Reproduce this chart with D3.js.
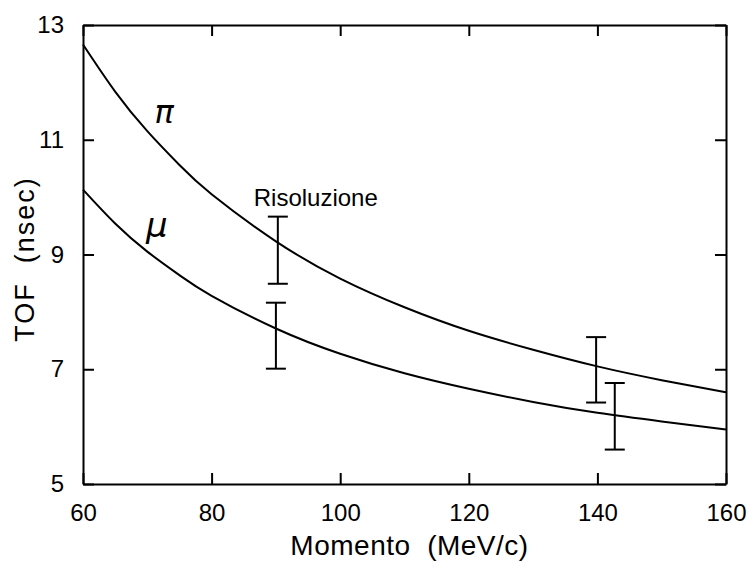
<!DOCTYPE html>
<html lang="it">
<head>
<meta charset="UTF-8">
<title>TOF vs Momento</title>
<script src="https://cdn.jsdelivr.net/npm/d3@7"></script>
<style>
  body { margin: 0; background: #fff; }
  svg { display: block; font-family: "Liberation Sans", Arial, sans-serif; }
  .axis path, .axis line { stroke: #000; stroke-width: 2; }
  .axis text { font-size: 24px; fill: #000; }
</style>
</head>
<body>
<div id="chart"></div>
<script>
// momentum (MeV/c) and time of flight (ns)
const momenta = [60, 65, 70, 75, 80, 90, 100, 110, 120, 130, 140, 150, 160];
const tofPion = [12.66, 11.84, 11.15, 10.56, 10.05, 9.23, 8.58, 8.08, 7.67, 7.34, 7.05, 6.81, 6.60];
const tofMuon = [10.13, 9.54, 9.05, 8.64, 8.28, 7.71, 7.27, 6.93, 6.66, 6.43, 6.24, 6.09, 5.95];

// resolution bars
const barMomenta = [90.3, 90.0, 139.8, 142.7];
const barLow = [8.49, 7.01, 6.42, 5.60];
const barHigh = [9.66, 8.16, 7.56, 6.76];

const xTicks = [60, 80, 100, 120, 140, 160];
const yTicks = [5, 7, 9, 11, 13];

const w = 748, h = 562;
const m = {top: 25, right: 22, bottom: 78, left: 83};

const svg = d3.select("#chart").append("svg")
    .attr("width", w)
    .attr("height", h);

const x = d3.scaleLinear().domain([60, 160]).range([m.left, w - m.right]);
const y = d3.scaleLinear().domain([5, 13]).range([h - m.bottom, m.top]);

const tick = 11;

svg.append("g").attr("class", "axis")
    .attr("transform", "translate(0," + (h - m.bottom) + ")")
    .call(d3.axisBottom(x).tickValues(xTicks).tickSizeInner(-tick).tickSizeOuter(0).tickPadding(20));
svg.append("g").attr("class", "axis")
    .attr("transform", "translate(0," + m.top + ")")
    .call(d3.axisTop(x).tickValues(xTicks).tickSizeInner(-tick).tickSizeOuter(0).tickFormat(""));
svg.append("g").attr("class", "axis")
    .attr("transform", "translate(" + m.left + ",0)")
    .call(d3.axisLeft(y).tickValues(yTicks).tickSizeInner(-tick).tickSizeOuter(0).tickPadding(19));
svg.append("g").attr("class", "axis")
    .attr("transform", "translate(" + (w - m.right) + ",0)")
    .call(d3.axisRight(y).tickValues(yTicks).tickSizeInner(-tick).tickSizeOuter(0).tickFormat(""));

// curves
const line = d3.line()
    .x((d, i) => x(momenta[i]))
    .y(d => y(d))
    .curve(d3.curveNatural);

[tofPion, tofMuon].forEach(s => {
    svg.append("path")
        .attr("d", line(s))
        .attr("fill", "none")
        .attr("stroke", "#000")
        .attr("stroke-width", 2);
});

// error bars
const bars = svg.append("g").attr("stroke", "#000").attr("stroke-width", 2);
barMomenta.forEach((p, i) => {
    bars.append("line")
        .attr("x1", x(p)).attr("x2", x(p))
        .attr("y1", y(barLow[i])).attr("y2", y(barHigh[i]));
    [barLow[i], barHigh[i]].forEach(v => {
        bars.append("line")
            .attr("x1", x(p) - 10).attr("x2", x(p) + 10)
            .attr("y1", y(v)).attr("y2", y(v));
    });
});

// labels
svg.append("text")
    .attr("x", x(96.2)).attr("y", y(9.85))
    .attr("text-anchor", "middle")
    .style("font-size", "24px")
    .text("Risoluzione");

svg.append("text")
    .attr("x", x(72.6)).attr("y", y(11.29))
    .attr("text-anchor", "middle")
    .style("font-family", "'DejaVu Sans', sans-serif")
    .style("font-style", "italic")
    .style("font-size", "32px")
    .text("π");

svg.append("text")
    .attr("x", x(69.8)).attr("y", y(9.31))
    .style("font-family", "'DejaVu Sans', sans-serif")
    .style("font-style", "italic")
    .style("font-size", "34px")
    .text("μ");

svg.append("text")
    .attr("x", (m.left + w - m.right) / 2 + 5).attr("y", 555)
    .attr("text-anchor", "middle")
    .style("font-size", "28px")
    .style("letter-spacing", "0.5px")
    .style("white-space", "pre")
    .text("Momento  (MeV/c)");

svg.append("text")
    .attr("transform", "translate(34,259) rotate(-90)")
    .attr("text-anchor", "middle")
    .style("font-size", "27px")
    .style("letter-spacing", "2px")
    .style("white-space", "pre")
    .text("TOF  (nsec)");
</script>
</body>
</html>
